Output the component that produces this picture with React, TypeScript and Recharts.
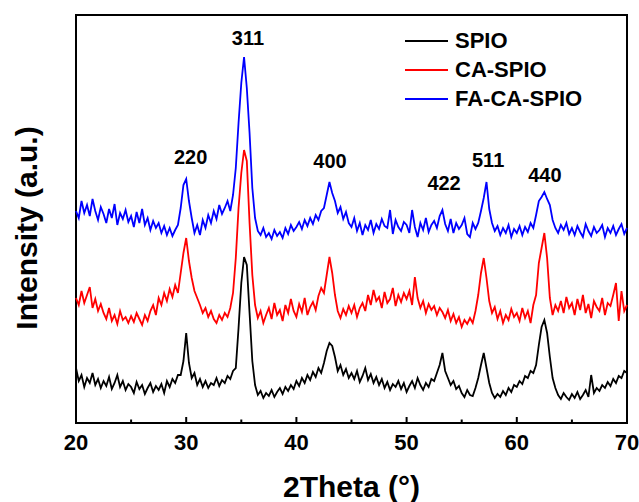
import React from 'react';
import { LineChart, Line, XAxis, YAxis, Legend, ReferenceArea, ReferenceDot } from 'recharts';

// 2θ grid: 20° to 70° in 0.25° steps (201 points)
const thetaStart = 20;
const thetaStep = 0.25;

// intensities (a.u., offset stacked)
const spio = [
  55, 42, 48, 36, 45, 40, 50, 38, 44, 35,
  42, 37, 46, 34, 40, 48, 36, 42, 33, 39,
  36, 30, 41, 34, 38, 29, 35, 40, 31, 37,
  33, 39, 30, 42, 36, 44, 40, 48, 48, 62,
  90, 60, 45, 50, 38, 44, 36, 42, 35, 40,
  38, 45, 37, 43, 40, 47, 44, 52, 55, 95,
  140, 166, 158, 110, 62, 38, 28, 32, 25, 30,
  27, 33, 26, 31, 35, 29, 36, 32, 38, 34,
  42, 37, 45, 40, 48, 43, 51, 46, 55, 50,
  60, 72, 80, 77, 66, 52, 58, 48, 54, 45,
  50, 44, 52, 41, 47, 55, 43, 49, 40, 46,
  38, 44, 35, 41, 33, 39, 36, 42, 34, 40,
  31, 37, 42, 35, 45, 38, 33, 40, 36, 44,
  42, 50, 58, 70, 52, 45, 38, 42, 34, 37,
  30, 26, 33, 28, 27, 35, 45, 58, 70, 55,
  40, 30, 25, 29, 26, 32, 28, 35, 31, 38,
  36, 42, 39, 47, 45, 52, 50, 58, 78, 96,
  103, 90, 66, 45, 35, 28, 24, 30, 26, 23,
  29, 25, 31, 24, 28, 33, 26, 48, 30, 35,
  32, 38, 35, 41, 37, 44, 40, 47, 45, 52, 50,
];

const caSpio = [
  125, 118, 132, 120, 128, 136, 115, 124, 112, 119,
  110, 104, 115, 102, 108, 99, 112, 103, 106, 100,
  107, 101, 110, 104, 98, 108, 102, 112, 118, 108,
  125, 118, 130, 122, 134, 126, 138, 130, 150, 170,
  185, 162, 145, 132, 125, 118, 110, 115, 106, 112,
  104, 100, 108, 103, 110, 106, 115, 130, 165, 215,
  250, 273, 262, 200, 148, 118, 105, 112, 100, 108,
  115, 104, 120, 108, 113, 102, 118, 110, 124, 112,
  106, 119, 111, 125, 108, 116, 121, 113, 127, 135,
  130, 148, 166, 150, 128, 112, 105, 114, 108, 117,
  110, 118, 106, 115, 120, 112, 128, 118, 133, 122,
  126, 115, 131, 120, 124, 135, 117, 128, 121, 130,
  124, 132, 118, 146, 125, 115, 122, 110, 119, 113,
  117, 108, 115, 111, 105, 113, 102, 109, 100, 106,
  96, 103, 99, 105, 100, 112, 128, 150, 165, 145,
  122, 110, 116, 104, 112, 100, 108, 103, 114, 106,
  110, 102, 115, 105, 112, 100, 118, 128, 160, 175,
  190, 165, 125, 108, 118, 112, 122, 110, 126, 115,
  120, 108, 124, 113, 128, 110, 119, 105, 122, 116,
  112, 125, 108, 120, 117, 128, 140, 102, 132, 112, 118,
];

const faCaSpio = [
  212, 205, 222, 210, 218, 207, 224, 212, 203, 216,
  209, 200, 214, 205, 219, 198, 210, 204, 213, 201,
  207, 196, 211, 200, 214, 198, 205, 193, 202, 195,
  200, 190, 197, 188, 195, 187, 193, 198, 215, 238,
  244, 222, 205, 190, 198, 188, 203, 195, 208, 200,
  212, 204, 218, 209, 215, 222, 212, 228, 255, 300,
  340, 366, 335, 290, 235, 205, 192, 188, 195, 186,
  190, 184, 193, 187, 191, 185, 195, 189, 198, 192,
  196, 201, 194, 203, 197, 205, 199, 208, 203, 212,
  215, 228, 241, 230, 222, 210, 216, 204, 211, 200,
  196, 205, 192, 200, 188, 198, 193, 203, 190, 199,
  194, 204, 197, 195, 213, 189, 203, 196, 192, 201,
  198, 190, 213, 196, 186, 200, 193, 205, 191, 198,
  202, 195, 207, 213, 199, 192, 204, 190, 200, 194,
  198, 205, 189, 186, 200, 194, 200, 212, 225, 241,
  214, 200, 192, 197, 188, 195, 190, 198, 186, 194,
  190, 197, 188, 196, 191, 200, 195, 208, 222, 226,
  231, 224, 218, 203, 195, 190, 198, 193, 200, 189,
  195, 188, 197, 191, 186, 199, 192, 187, 196, 190,
  193, 198, 186, 195, 190, 197, 188, 194, 199, 189, 195,
];

const seriesOrder = ['SPIO', 'CA-SPIO', 'FA-CA-SPIO'];

const majorTicks = [20, 30, 40, 50, 60, 70];
const allTicks = [20, 25, 30, 35, 40, 45, 50, 55, 60, 65, 70];

// peak (hkl) labels: 2θ and label height in a.u.
const peakNames = ['220', '311', '400', '422', '511', '440'];
const peakTheta = [30.4, 35.6, 43.05, 53.4, 57.4, 62.55];
const peakLabelY = [266, 385, 262, 240, 263, 248];

const data = spio.map((v, i) => ({
  x: thetaStart + i * thetaStep,
  spio: v,
  ca: caSpio[i],
  fa: faCaSpio[i],
}));

const FONT = '"Liberation Sans", Arial, sans-serif';

const TickMark = (props: any) => {
  const { x, y, payload } = props;
  const isMajor = majorTicks.includes(payload.value);
  return (
    <g>
      <line x1={x} x2={x} y1={y} y2={y - (isMajor ? 6 : 3.5)} stroke="#000" strokeWidth={2} />
      {isMajor && (
        <text x={x} y={y + 27} textAnchor="middle" fontSize={22} fontWeight="bold" fontFamily={FONT} fill="#000">
          {payload.value}
        </text>
      )}
    </g>
  );
};

const LegendBox = (props: any) => {
  const items = [...(props.payload || [])].sort(
    (a: any, b: any) => seriesOrder.indexOf(a.value) - seriesOrder.indexOf(b.value)
  );
  return (
    <div style={{ fontFamily: FONT, fontWeight: 'bold', fontSize: 22 }}>
      {items.map((it: any) => (
        <div key={it.value} style={{ display: 'flex', alignItems: 'center', height: 29 }}>
          <span style={{ display: 'inline-block', width: 43, height: 2, background: it.color, marginRight: 7 }} />
          <span style={{ color: '#000' }}>{it.value}</span>
        </div>
      ))}
    </div>
  );
};

export default function App() {
  return (
    <div style={{ position: 'absolute', left: 0, top: 0, background: '#fff' }}>
      <LineChart width={639} height={502} data={data} margin={{ top: 15, right: 12, left: 0, bottom: 0 }}>
        <XAxis
          dataKey="x"
          type="number"
          domain={[20, 70]}
          ticks={allTicks}
          interval={0}
          height={79}
          axisLine={false}
          tickLine={false}
          tickSize={0}
          tickMargin={0}
          tick={<TickMark />}
          label={({ viewBox }: any) => (
            <text x={viewBox.x + viewBox.width / 2} y={497} textAnchor="middle" fontSize={30} fontWeight="bold" fontFamily={FONT} fill="#000">
              2Theta (°)
            </text>
          )}
        />
        <YAxis
          type="number"
          domain={[0, 408]}
          width={76}
          axisLine={false}
          tickLine={false}
          tick={false}
          label={() => (
            <text x={37} y={228} transform="rotate(-90 37 228)" textAnchor="middle" fontSize={30} fontWeight="bold" fontFamily={FONT} fill="#000">
              Intensity (a.u.)
            </text>
          )}
        />
        <ReferenceArea x1={20} x2={70} y1={0} y2={408} fill="none" stroke="#000" strokeWidth={2} />
        <Legend
          layout="vertical"
          verticalAlign="middle"
          align="center"
          content={<LegendBox />}
          wrapperStyle={{ left: 405, top: 26, width: 220 }}
        />
        <Line type="linear" dataKey="spio" name="SPIO" stroke="#000000" strokeWidth={1.8} dot={false} isAnimationActive={false} />
        <Line type="linear" dataKey="ca" name="CA-SPIO" stroke="#ff0000" strokeWidth={1.8} dot={false} isAnimationActive={false} />
        <Line type="linear" dataKey="fa" name="FA-CA-SPIO" stroke="#0000ff" strokeWidth={1.8} dot={false} isAnimationActive={false} />
        {peakNames.map((p, i) => (
          <ReferenceDot
            key={p}
            x={peakTheta[i]}
            y={peakLabelY[i]}
            r={0}
            fill="none"
            stroke="none"
            label={{ value: p, position: 'center', fontSize: 20, fontWeight: 'bold', fontFamily: FONT, fill: '#000' }}
          />
        ))}
      </LineChart>
    </div>
  );
}
